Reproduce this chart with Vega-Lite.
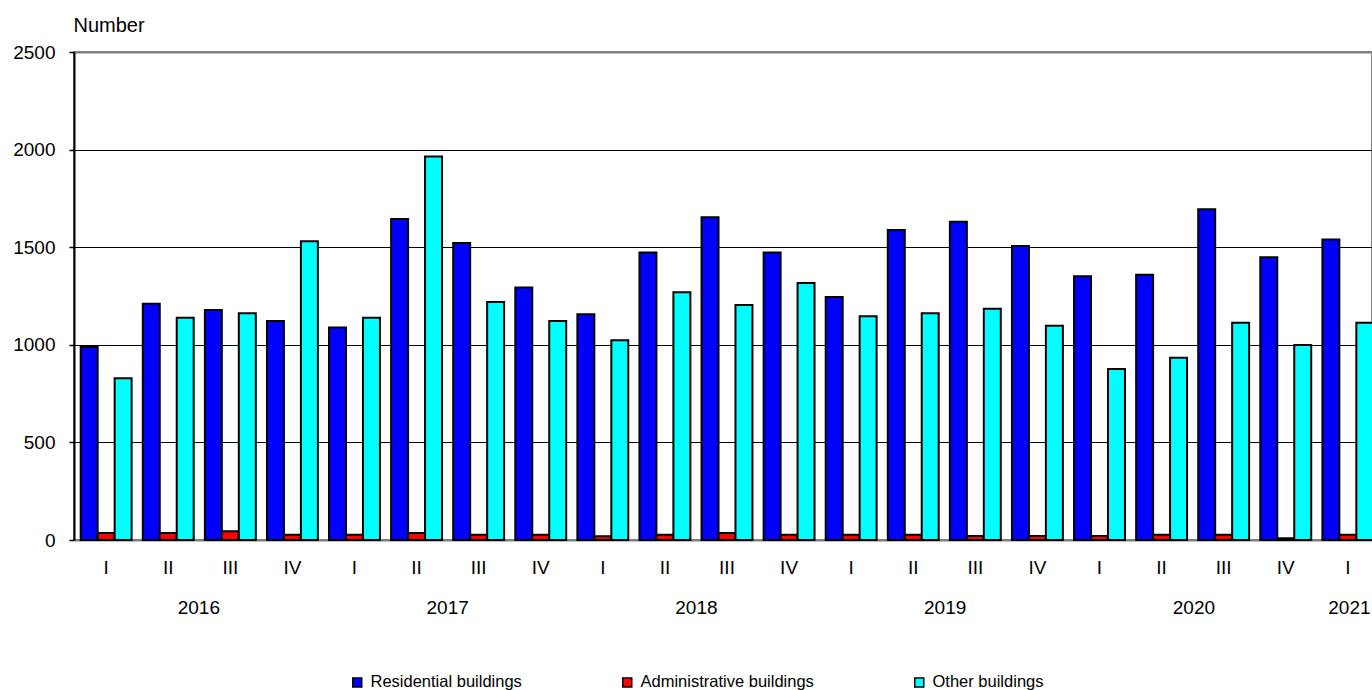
{
  "$schema": "https://vega.github.io/schema/vega-lite/v6.json",
  "width": 1298,
  "height": 488,
  "autosize": {"type": "none"},
  "padding": {"left": 74, "top": 52, "right": 0, "bottom": 150},
  "background": "white",
  "config": {
    "font": "Liberation Sans",
    "view": {"stroke": "#808080", "strokeWidth": 2},
    "axis": {"labelColor": "#000000", "titleColor": "#000000", "labelFont": "Liberation Sans", "titleFont": "Liberation Sans"}
  },
  "datasets": {
    "bars": [
      {"q": "2016 I", "series": "Residential buildings", "value": 989},
      {"q": "2016 II", "series": "Residential buildings", "value": 1210},
      {"q": "2016 III", "series": "Residential buildings", "value": 1178},
      {"q": "2016 IV", "series": "Residential buildings", "value": 1122},
      {"q": "2017 I", "series": "Residential buildings", "value": 1088},
      {"q": "2017 II", "series": "Residential buildings", "value": 1645},
      {"q": "2017 III", "series": "Residential buildings", "value": 1521},
      {"q": "2017 IV", "series": "Residential buildings", "value": 1294},
      {"q": "2018 I", "series": "Residential buildings", "value": 1156},
      {"q": "2018 II", "series": "Residential buildings", "value": 1473},
      {"q": "2018 III", "series": "Residential buildings", "value": 1653},
      {"q": "2018 IV", "series": "Residential buildings", "value": 1473},
      {"q": "2019 I", "series": "Residential buildings", "value": 1245},
      {"q": "2019 II", "series": "Residential buildings", "value": 1588},
      {"q": "2019 III", "series": "Residential buildings", "value": 1630},
      {"q": "2019 IV", "series": "Residential buildings", "value": 1506},
      {"q": "2020 I", "series": "Residential buildings", "value": 1351},
      {"q": "2020 II", "series": "Residential buildings", "value": 1359},
      {"q": "2020 III", "series": "Residential buildings", "value": 1694},
      {"q": "2020 IV", "series": "Residential buildings", "value": 1449},
      {"q": "2021 I", "series": "Residential buildings", "value": 1540},
      {"q": "2016 I", "series": "Administrative buildings", "value": 36},
      {"q": "2016 II", "series": "Administrative buildings", "value": 36},
      {"q": "2016 III", "series": "Administrative buildings", "value": 45},
      {"q": "2016 IV", "series": "Administrative buildings", "value": 27},
      {"q": "2017 I", "series": "Administrative buildings", "value": 27},
      {"q": "2017 II", "series": "Administrative buildings", "value": 36},
      {"q": "2017 III", "series": "Administrative buildings", "value": 27},
      {"q": "2017 IV", "series": "Administrative buildings", "value": 27},
      {"q": "2018 I", "series": "Administrative buildings", "value": 19},
      {"q": "2018 II", "series": "Administrative buildings", "value": 27},
      {"q": "2018 III", "series": "Administrative buildings", "value": 36},
      {"q": "2018 IV", "series": "Administrative buildings", "value": 27},
      {"q": "2019 I", "series": "Administrative buildings", "value": 27},
      {"q": "2019 II", "series": "Administrative buildings", "value": 27},
      {"q": "2019 III", "series": "Administrative buildings", "value": 20},
      {"q": "2019 IV", "series": "Administrative buildings", "value": 20},
      {"q": "2020 I", "series": "Administrative buildings", "value": 20},
      {"q": "2020 II", "series": "Administrative buildings", "value": 27},
      {"q": "2020 III", "series": "Administrative buildings", "value": 27},
      {"q": "2020 IV", "series": "Administrative buildings", "value": 9},
      {"q": "2021 I", "series": "Administrative buildings", "value": 27},
      {"q": "2016 I", "series": "Other buildings", "value": 829},
      {"q": "2016 II", "series": "Other buildings", "value": 1139},
      {"q": "2016 III", "series": "Other buildings", "value": 1161},
      {"q": "2016 IV", "series": "Other buildings", "value": 1531},
      {"q": "2017 I", "series": "Other buildings", "value": 1139},
      {"q": "2017 II", "series": "Other buildings", "value": 1965},
      {"q": "2017 III", "series": "Other buildings", "value": 1219},
      {"q": "2017 IV", "series": "Other buildings", "value": 1122},
      {"q": "2018 I", "series": "Other buildings", "value": 1023},
      {"q": "2018 II", "series": "Other buildings", "value": 1269},
      {"q": "2018 III", "series": "Other buildings", "value": 1204},
      {"q": "2018 IV", "series": "Other buildings", "value": 1316},
      {"q": "2019 I", "series": "Other buildings", "value": 1146},
      {"q": "2019 II", "series": "Other buildings", "value": 1161},
      {"q": "2019 III", "series": "Other buildings", "value": 1185},
      {"q": "2019 IV", "series": "Other buildings", "value": 1098},
      {"q": "2020 I", "series": "Other buildings", "value": 876},
      {"q": "2020 II", "series": "Other buildings", "value": 934},
      {"q": "2020 III", "series": "Other buildings", "value": 1113},
      {"q": "2020 IV", "series": "Other buildings", "value": 999},
      {"q": "2021 I", "series": "Other buildings", "value": 1113}
    ],
    "years": [
      {"year": "2016", "mid": 2},
      {"year": "2017", "mid": 6},
      {"year": "2018", "mid": 10},
      {"year": "2019", "mid": 14},
      {"year": "2020", "mid": 18},
      {"year": "2021", "mid": 20.5}
    ]
  },
  "resolve": {"scale": {"x": "independent"}, "axis": {"x": "independent"}},
  "layer": [
    {
      "data": {"name": "bars"},
      "mark": {"type": "bar", "stroke": "#000000", "strokeWidth": 2},
      "encoding": {
        "x": {
          "field": "q",
          "type": "nominal",
          "sort": null,
          "scale": {"range": [0, 1306], "paddingInner": 0.18, "paddingOuter": 0.108},
          "axis": {
            "orient": "bottom",
            "title": null,
            "labelExpr": "split(datum.label, ' ')[1]",
            "labelAngle": 0,
            "labelFontSize": 19,
            "labelPadding": 18,
            "ticks": false,
            "domain": false,
            "grid": false
          }
        },
        "xOffset": {
          "field": "series",
          "type": "nominal",
          "sort": ["Residential buildings", "Administrative buildings", "Other buildings"],
          "scale": {"paddingInner": 0, "paddingOuter": 0}
        },
        "y": {
          "field": "value",
          "type": "quantitative",
          "scale": {"domain": [0, 2500], "nice": false},
          "axis": {
            "values": [0, 500, 1000, 1500, 2000, 2500],
            "format": "d",
            "title": "Number",
            "titleAngle": 0,
            "titleAlign": "left",
            "titleBaseline": "alphabetic",
            "titleX": -1,
            "titleY": -21,
            "titleFontSize": 20,
            "titleFontWeight": "normal",
            "labelFontSize": 19,
            "labelPadding": 14,
            "tickSize": 5,
            "tickColor": "#000000",
            "tickWidth": 1.5,
            "domainColor": "#000000",
            "domainWidth": 2,
            "grid": true,
            "gridColor": {"condition": {"test": "datum.value == 2500 || datum.value == 0", "value": "#808080"}, "value": "#000000"},
            "gridWidth": {"condition": {"test": "datum.value == 2500 || datum.value == 0", "value": 2}, "value": 1}
          }
        },
        "fill": {
          "field": "series",
          "type": "nominal",
          "sort": ["Residential buildings", "Administrative buildings", "Other buildings"],
          "scale": {"range": ["#0000FF", "#FF0000", "#00FFFF"]},
          "legend": {
            "title": null,
            "orient": "none",
            "direction": "horizontal",
            "legendX": 275,
            "legendY": 622,
            "padding": 0,
            "symbolType": "square",
            "symbolSize": 81,
            "symbolStrokeColor": "#000000",
            "symbolStrokeWidth": 1.5,
            "labelFontSize": 16.5,
            "labelColor": "#000000",
            "labelFont": "Liberation Sans",
            "labelOffset": 5,
            "columnPadding": 97,
            "labelLimit": 400
          }
        }
      }
    },
    {
      "data": {"name": "years"},
      "mark": {"type": "point", "opacity": 0},
      "encoding": {
        "x": {
          "field": "mid",
          "type": "quantitative",
          "scale": {"domain": [0, 21], "range": [0, 1306], "nice": false, "zero": false},
          "axis": {
            "orient": "bottom",
            "title": null,
            "values": [2, 6, 10, 14, 18, 20.5],
            "labelExpr": "toString(2016 + floor(datum.value / 4))",
            "labelFontSize": 19,
            "labelPadding": 58,
            "labelFlush": false,
            "labelOverlap": false,
            "ticks": false,
            "domain": false,
            "grid": false
          }
        }
      }
    }
  ]
}
